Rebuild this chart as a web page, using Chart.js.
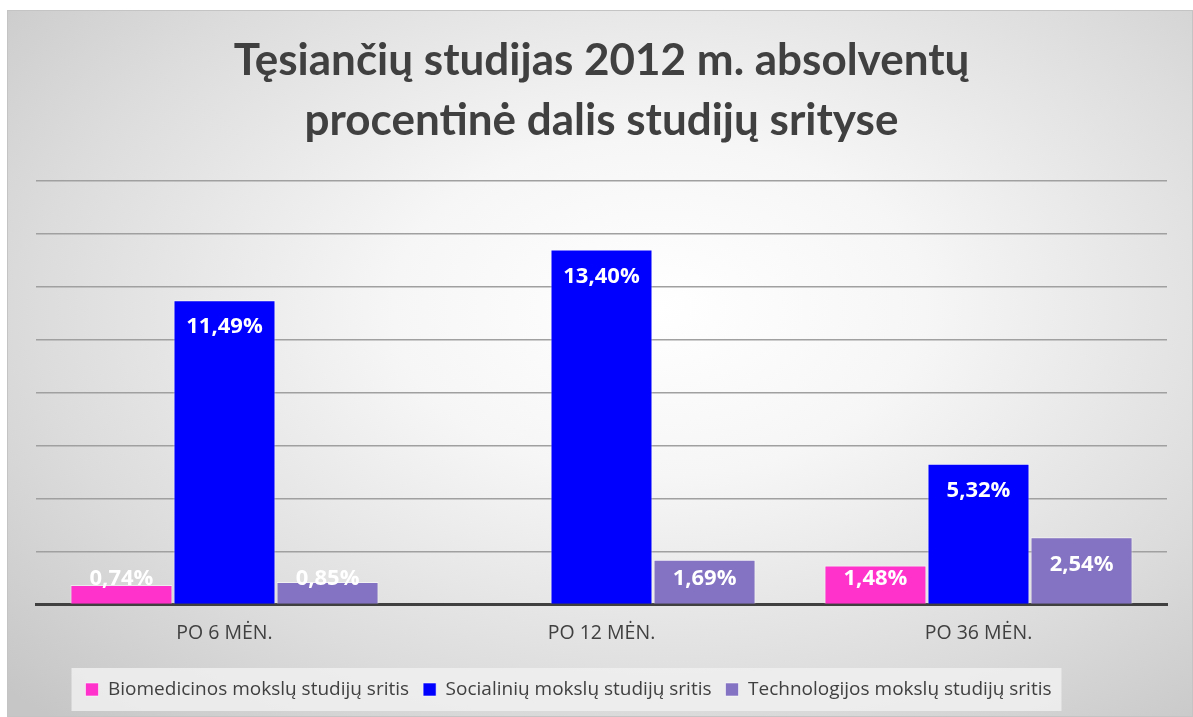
<!DOCTYPE html>
<html>
<head>
<meta charset="utf-8">
<script src="https://cdn.jsdelivr.net/npm/chart.js@4"></script>
<style>
    html, body { margin: 0; padding: 0; background: #fff; }
    #wrap {
        position: absolute; left: 7px; top: 10px; width: 1186px; height: 707px;
        border: 1px solid #c4c4c4; box-sizing: border-box;
        background: radial-gradient(ellipse 75% 80% at 55% 42%, #ffffff 0%, #f6f6f6 30%, #dcdcdc 70%, #c6c6c6 100%);
    }
    canvas { display: block; }
</style>
</head>
<body>
<div id="wrap"><canvas id="chart" width="1184" height="705"></canvas></div>
<script>
const titleLines = ['Tęsiančių studijas 2012 m. absolventų', 'procentinė dalis studijų srityse'];
const categories = ['PO 6 MĖN.', 'PO 12 MĖN.', 'PO 36 MĖN.'];
const seriesNames = ['Biomedicinos mokslų studijų sritis', 'Socialinių mokslų studijų sritis', 'Technologijos mokslų studijų sritis'];
const biomed = [0.74, null, 1.48];
const social = [11.49, 13.40, 5.32];
const tech = [0.85, 1.69, 2.54];
const colors = ['#ff33cc', '#0000ff', '#8472c2'];

const fmt = v => v.toFixed(2).replace('.', ',') + '%';

// legend sits a bit left of centre in the original
const legendShift = {
    id: 'legendShift',
    afterLayout(chart) {
        const lg = chart.legend;
        if (!lg) return;
        lg.left -= 33; lg.right -= 33;
        lg.top -= 3; lg.bottom -= 3;
    }
};

// light box behind the legend
const legendBox = {
    id: 'legendBox',
    beforeDraw(chart) {
        const boxes = chart.legend && chart.legend.legendHitBoxes;
        if (!boxes || !boxes.length) return;
        const left = Math.min(...boxes.map(b => b.left)) - 14;
        const right = Math.max(...boxes.map(b => b.left + b.width)) + 10;
        const top = boxes[0].top - 12;
        const ctx = chart.ctx;
        ctx.save();
        ctx.fillStyle = 'rgba(240,240,240,0.85)';
        ctx.fillRect(left, top, right - left, boxes[0].height + 24);
        ctx.restore();
    }
};

// value labels inside the top of each bar
const barLabels = {
    id: 'barLabels',
    afterDatasetsDraw(chart) {
        const ctx = chart.ctx;
        ctx.save();
        ctx.font = 'bold 22px "Open Sans", sans-serif';
        ctx.fillStyle = '#ffffff';
        ctx.textAlign = 'center';
        ctx.textBaseline = 'middle';
        chart.data.datasets.forEach((ds, i) => {
            chart.getDatasetMeta(i).data.forEach((bar, j) => {
                const v = ds.data[j];
                if (v === null) return;
                const y = Math.min(bar.y + 27, bar.base - 25);
                ctx.fillText(fmt(v), bar.x, y);
            });
        });
        ctx.restore();
    }
};

new Chart(document.getElementById('chart'), {
    type: 'bar',
    data: {
        labels: categories,
        datasets: [biomed, social, tech].map((d, i) => ({
            label: seriesNames[i],
            data: d,
            backgroundColor: colors[i],
            borderColor: 'rgba(255,255,255,0.55)',
            borderWidth: 1,
            categoryPercentage: 0.82,
            barPercentage: 0.99
        }))
    },
    options: {
        responsive: false,
        animation: false,
        layout: { padding: { left: 28, right: 25, top: 0, bottom: 4 } },
        plugins: {
            title: {
                display: true,
                text: titleLines,
                color: '#404040',
                font: { family: 'Lato, "Open Sans", sans-serif', size: 44, weight: 'bold', lineHeight: 1.36 },
                padding: { top: 20, bottom: 30 }
            },
            legend: {
                position: 'bottom',
                labels: {
                    color: '#404040',
                    font: { family: '"Open Sans", sans-serif', size: 19 },
                    boxWidth: 13,
                    boxHeight: 13,
                    padding: 14
                }
            },
            tooltip: { enabled: false }
        },
        scales: {
            x: {
                grid: { display: false },
                border: { display: true, color: '#404040', width: 3 },
                ticks: {
                    color: '#404040',
                    font: { family: '"Open Sans", sans-serif', size: 19.5 },
                    padding: 9
                },
                afterFit(scale) { scale.height += 15; }
            },
            y: {
                min: 0,
                max: 16,
                ticks: { display: false, stepSize: 2 },
                border: { display: false },
                grid: {
                    color: '#a0a0a0',
                    lineWidth: 1.5,
                    drawTicks: false
                }
            }
        }
    },
    plugins: [legendShift, legendBox, barLabels]
});
</script>
</body>
</html>
